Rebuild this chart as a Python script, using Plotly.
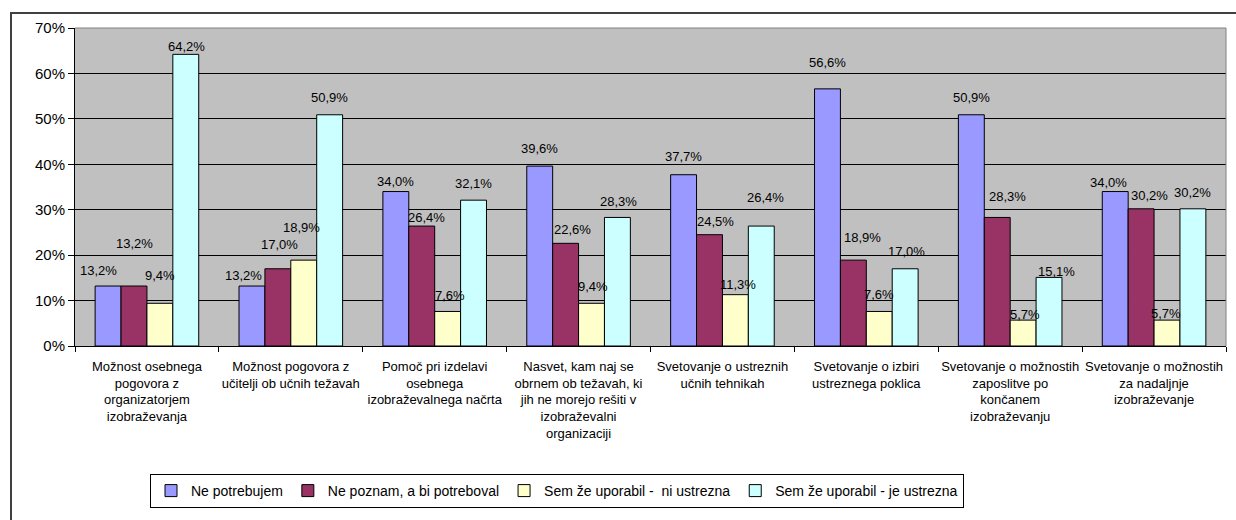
import plotly.graph_objects as go

categories = [
    "Možnost osebnega<br>pogovora z<br>organizatorjem<br>izobraževanja",
    "Možnost pogovora z<br>učitelji ob učnih težavah",
    "Pomoč pri izdelavi<br>osebnega<br>izobraževalnega načrta",
    "Nasvet, kam naj se<br>obrnem ob težavah, ki<br>jih ne morejo rešiti v<br>izobraževalni<br>organizaciji",
    "Svetovanje o ustreznih<br>učnih tehnikah",
    "Svetovanje o izbiri<br>ustreznega poklica",
    "Svetovanje o možnostih<br>zaposlitve po<br>končanem<br>izobraževanju",
    "Svetovanje o možnostih<br>za nadaljnje<br>izobraževanje",
]

ne_potrebujem = [13.2, 13.2, 34.0, 39.6, 37.7, 56.6, 50.9, 34.0]
ne_poznam = [13.2, 17.0, 26.4, 22.6, 24.5, 18.9, 28.3, 30.2]
ni_ustrezna = [9.4, 18.9, 7.6, 9.4, 11.3, 7.6, 5.7, 5.7]
je_ustrezna = [64.2, 50.9, 32.1, 28.3, 26.4, 17.0, 15.1, 30.2]

series = [
    ("Ne potrebujem", ne_potrebujem, "#9999FF"),
    ("Ne poznam, a bi potreboval", ne_poznam, "#993366"),
    ("Sem že uporabil -  ni ustrezna", ni_ustrezna, "#FFFFCC"),
    ("Sem že uporabil - je ustrezna", je_ustrezna, "#CCFFFF"),
]

# data label nudges (px right, px above bar top), as placed in the original chart
label_nudge = [
    [(-10, 16), (-8, 11), (0, 10), (0, 18), (0, 18), (0, 26), (0, 17), (-7, 9)],
    [(1, 43), (2, 24), (5, 9), (7, 14), (6, 13), (9, 23), (10, 21), (8, 13)],
    [(0, 28), (-2, 33), (2, 16), (1, 17), (3, 10), (0, 17), (2, 6), (-1, 7)],
    [(1, 8), (0, 17), (0, 17), (1, 16), (4, 29), (1, 17), (7, 6), (0, 16)],
]

W, H = 1236, 520
L, R, T, B = 75, 10, 28, 174
pw, ph = W - L - R, H - T - B
bargap = 0.28
bar_px = pw / len(categories) * (1 - bargap) / len(series)

fig = go.Figure()
for name, vals, color in series:
    fig.add_trace(go.Bar(
        x=categories,
        y=[v / 100 for v in vals],
        name=name,
        marker=dict(color=color, line=dict(color="black", width=1)),
        hoverinfo="x+y+name",
    ))

for si, (name, vals, color) in enumerate(series):
    for ci, v in enumerate(vals):
        dx, dy = label_nudge[si][ci]
        fig.add_annotation(
            x=categories[ci], y=v / 100,
            text=f"{v:.1f}".replace(".", ",") + "%",
            showarrow=False,
            xshift=(si - 1.5) * bar_px + dx, yshift=dy,
            yanchor="middle",
            font=dict(size=13, color="black"),
        )

fig.update_layout(
    width=W, height=H,
    margin=dict(l=L, r=R, t=T, b=B),
    barmode="group",
    bargap=bargap,
    bargroupgap=0,
    separators=",.",
    plot_bgcolor="#C0C0C0",
    paper_bgcolor="white",
    font=dict(family="Liberation Sans, Arial, sans-serif", color="black"),
    legend=dict(
        orientation="h",
        x=(150 - L) / pw, y=-(474 - T - ph) / ph,
        xanchor="left", yanchor="top",
        bordercolor="black", borderwidth=1,
        font=dict(size=14),
        itemwidth=30,
    ),
    showlegend=True,
)

fig.update_yaxes(
    range=[0, 0.7], dtick=0.1, tickformat=".0%",
    showgrid=True, gridcolor="black", gridwidth=1,
    showline=True, linecolor="black", linewidth=1,
    ticks="outside", ticklen=6, tickcolor="black",
    tickfont=dict(size=15),
    zeroline=False,
)
fig.update_xaxes(
    showline=True, linecolor="black", linewidth=1,
    ticks="outside", ticklen=5, tickcolor="black",
    tickson="boundaries",
    tickfont=dict(size=13),
    ticklabelstandoff=8,
    tickangle=0,
)

# plot area border (top and right) and the outer chart frame
fig.add_shape(type="line", xref="paper", yref="paper", x0=0, x1=1, y0=1, y1=1,
              line=dict(color="#808080", width=1))
fig.add_shape(type="line", xref="paper", yref="paper", x0=1, x1=1, y0=0, y1=1,
              line=dict(color="#808080", width=1))
fig.add_shape(type="rect", xref="paper", yref="paper",
              x0=(11 - L) / pw, x1=(1245 - L) / pw,
              y0=-(530 - T - ph) / ph, y1=(T + ph - 13) / ph,
              line=dict(color="#404040", width=2))

fig.write_html("out.html", config={"displayModeBar": False},
               post_script="document.body.style.margin='0';")
